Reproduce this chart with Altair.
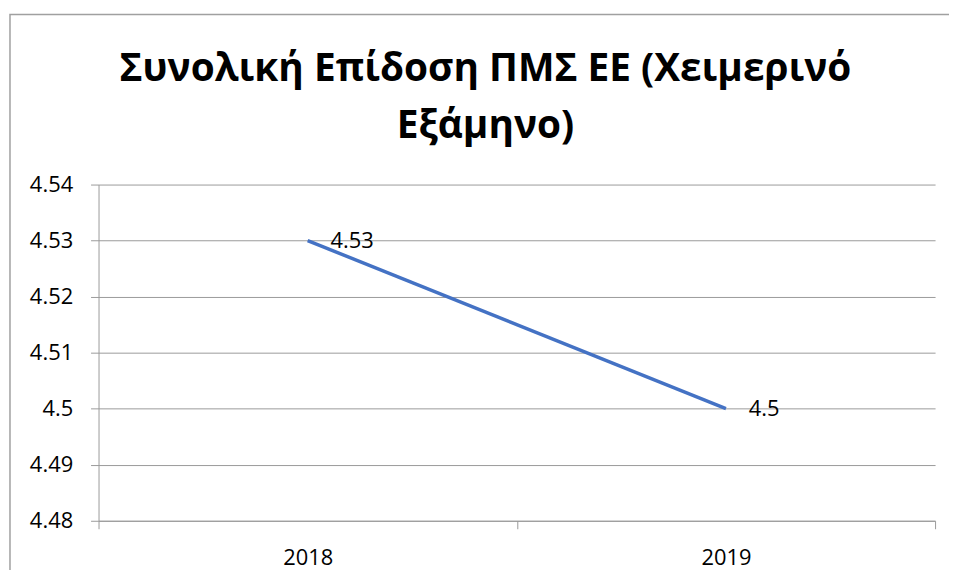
import altair as alt
import pandas as pd

years = ["2018", "2019"]
scores = [4.53, 4.50]
y_ticks = [4.48, 4.49, 4.50, 4.51, 4.52, 4.53, 4.54]
title_lines = ["Συνολική Επίδοση ΠΜΣ ΕΕ (Χειμερινό", "Εξάμηνο)"]

df = pd.DataFrame({"year": years, "score": scores})

FONT = "Open Sans"
GRID = "#9a9a9a"

base = alt.Chart(df).encode(
    x=alt.X(
        "year:N",
        bandPosition=0.5,
        scale=alt.Scale(type="band", paddingInner=0, paddingOuter=0),
        axis=alt.Axis(
            title=None,
            labelAngle=0,
            tickBand="extent",
            tickSize=8,
            tickColor=GRID,
            domainColor=GRID,
            labelFont=FONT,
            labelFontSize=22,
            labelColor="#000000",
            labelPadding=19,
            grid=False,
        ),
    ),
    y=alt.Y(
        "score:Q",
        scale=alt.Scale(domain=[4.48, 4.54], nice=False, zero=False),
        axis=alt.Axis(
            title=None,
            values=y_ticks,
            format=".2~f",
            tickSize=8,
            tickColor=GRID,
            domainColor=GRID,
            gridColor=GRID,
            labelFont=FONT,
            labelFontSize=22,
            labelColor="#000000",
            labelPadding=18,
        ),
    ),
)

line = base.mark_line(color="#4472C4", strokeWidth=3.5)
labels = base.mark_text(
    align="left", baseline="middle", dx=23, font=FONT, fontSize=22, color="#000000"
).encode(text=alt.Text("score:Q", format=".2~f"))

one = pd.DataFrame({"a": [0]})
border = alt.Chart(one).mark_rect(
    fill=None, stroke="#a0a0a0", strokeWidth=1.5
).encode(
    x=alt.value(-89), x2=alt.value(870), y=alt.value(-171), y2=alt.value(420)
)

title1 = alt.Chart(one).mark_text(
    font=FONT, fontSize=39, fontWeight="bold", color="#000000",
    align="center", baseline="alphabetic",
).encode(text=alt.value(title_lines[0]), x=alt.value(389), y=alt.value(-104))

title2 = alt.Chart(one).mark_text(
    font=FONT, fontSize=39, fontWeight="bold", color="#000000",
    align="center", baseline="alphabetic",
).encode(text=alt.value(title_lines[1]), x=alt.value(389), y=alt.value(-47))

chart = alt.layer(border, title1, title2, line, labels).properties(
    width=841,
    height=338,
    autosize=alt.AutoSizeParams(type="none"),
    padding={"left": 91, "top": 176, "right": 14, "bottom": 48},
).configure_view(stroke=None)

chart.save("out.html", embed_options={"renderer": "svg", "actions": False})
